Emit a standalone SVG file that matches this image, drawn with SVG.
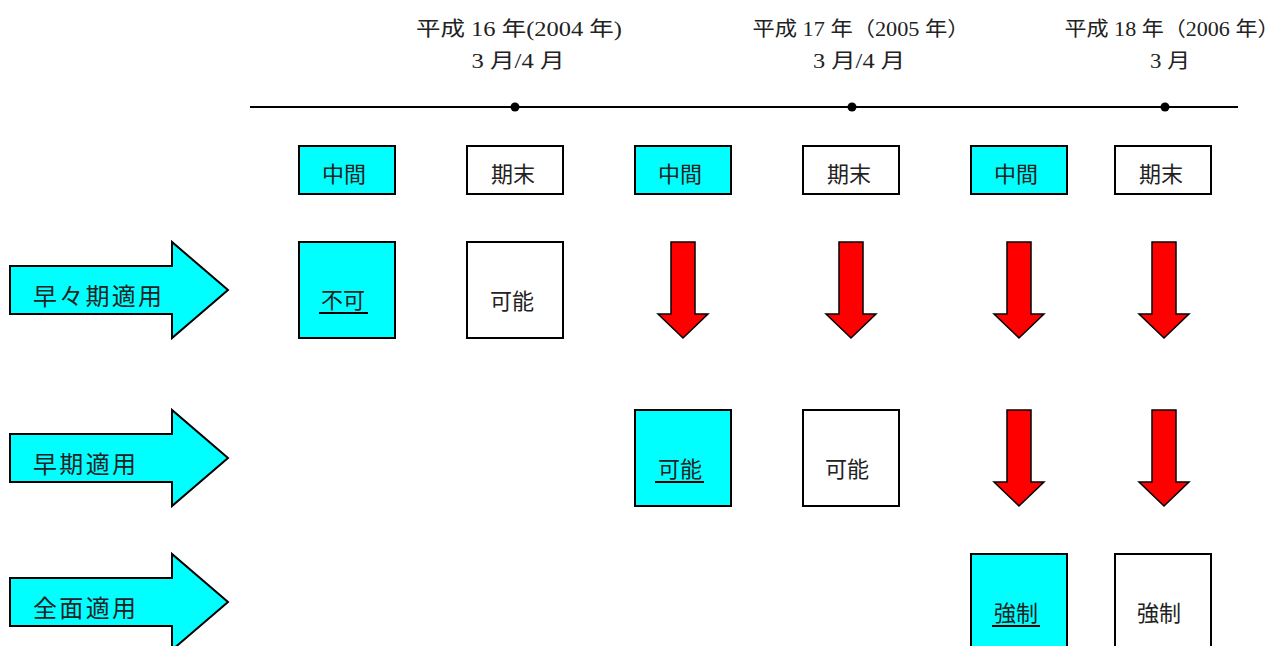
<svg xmlns="http://www.w3.org/2000/svg" width="1283" height="646" viewBox="0 0 1283 646">
<style>
.hdr{font-family:"Liberation Serif","Noto Sans CJK JP",serif;font-size:20px;fill:#222;text-anchor:middle}
.lbl{font-family:"Liberation Sans","Noto Sans CJK JP",sans-serif;font-size:22px;fill:#222;text-anchor:middle}
.big{font-family:"Liberation Sans","Noto Sans CJK JP",sans-serif;font-size:24px;fill:#222}
.cy{fill:#00ffff;stroke:#000;stroke-width:2}
.wh{fill:#fff;stroke:#000;stroke-width:2}
.red{fill:#ff0000;stroke:#000;stroke-width:1.5;stroke-linejoin:miter}
.ul{stroke:#000;stroke-width:2}
</style>
<defs>
<path id="down" d="M-12,0 H12 V72 H25 L0,96 L-25,72 H-12 Z"/>
<path id="right" d="M10,24 H172 V0 L228,48 L172,96 V72 H10 Z"/>
</defs>
<g id="timeline">
<line x1="250" y1="107" x2="1238" y2="107" stroke="#000" stroke-width="2"/>
<circle cx="515" cy="107" r="4.5"/>
<circle cx="852" cy="107" r="4.5"/>
<circle cx="1165" cy="107" r="4.5"/>
<text class="hdr" x="519" y="36" textLength="206" lengthAdjust="spacingAndGlyphs">平成 16 年(2004 年)</text>
<text class="hdr" x="518" y="68" textLength="93" lengthAdjust="spacingAndGlyphs">3 月/4 月</text>
<text class="hdr" x="861" y="36" textLength="217" lengthAdjust="spacingAndGlyphs">平成 17 年（2005 年）</text>
<text class="hdr" x="859" y="68" textLength="92" lengthAdjust="spacingAndGlyphs">3 月/4 月</text>
<text class="hdr" x="1172" y="36" textLength="215" lengthAdjust="spacingAndGlyphs">平成 18 年（2006 年）</text>
<text class="hdr" x="1170" y="68" textLength="40" lengthAdjust="spacingAndGlyphs">3 月</text>
</g>
<g id="header-boxes">
<rect class="cy" x="299" y="146" width="96" height="48"/><text class="lbl" x="344" y="182">中間</text>
<rect class="wh" x="467" y="146" width="96" height="48"/><text class="lbl" x="513" y="182">期末</text>
<rect class="cy" x="635" y="146" width="96" height="48"/><text class="lbl" x="680" y="182">中間</text>
<rect class="wh" x="803" y="146" width="96" height="48"/><text class="lbl" x="849" y="182">期末</text>
<rect class="cy" x="971" y="146" width="96" height="48"/><text class="lbl" x="1016" y="182">中間</text>
<rect class="wh" x="1115" y="146" width="96" height="48"/><text class="lbl" x="1161" y="182">期末</text>
</g>
<g id="row1">
<use href="#right" y="242" fill="#00ffff" stroke="#000" stroke-width="2"/>
<text class="big" x="33" y="305" textLength="129" lengthAdjust="spacing">早々期適用</text>
<rect class="cy" x="299" y="242" width="96" height="96"/><text class="lbl" x="343" y="308">不可</text>
<line class="ul" x1="319" y1="313" x2="368" y2="313"/>
<rect class="wh" x="467" y="242" width="96" height="96"/><text class="lbl" x="512" y="309">可能</text>
</g>
<g id="row2">
<use href="#right" y="410" fill="#00ffff" stroke="#000" stroke-width="2"/>
<text class="big" x="33" y="473" textLength="103" lengthAdjust="spacing">早期適用</text>
<rect class="cy" x="635" y="410" width="96" height="96"/><text class="lbl" x="680" y="477">可能</text>
<line class="ul" x1="655" y1="482" x2="704" y2="482"/>
<rect class="wh" x="803" y="410" width="96" height="96"/><text class="lbl" x="847" y="477">可能</text>
</g>
<g id="row3">
<use href="#right" y="554" fill="#00ffff" stroke="#000" stroke-width="2"/>
<text class="big" x="33" y="617" textLength="103" lengthAdjust="spacing">全面適用</text>
<rect class="cy" x="971" y="554" width="96" height="100"/><text class="lbl" x="1016" y="621">強制</text>
<line class="ul" x1="992" y1="626" x2="1040" y2="626"/>
<rect class="wh" x="1115" y="554" width="96" height="100"/><text class="lbl" x="1159" y="621">強制</text>
</g>
<g id="connectors">
<use href="#down" class="red" x="683" y="242"/>
<use href="#down" class="red" x="851" y="242"/>
<use href="#down" class="red" x="1019" y="242"/>
<use href="#down" class="red" x="1164" y="242"/>
<use href="#down" class="red" x="1019" y="410"/>
<use href="#down" class="red" x="1164" y="410"/>
</g>
</svg>
